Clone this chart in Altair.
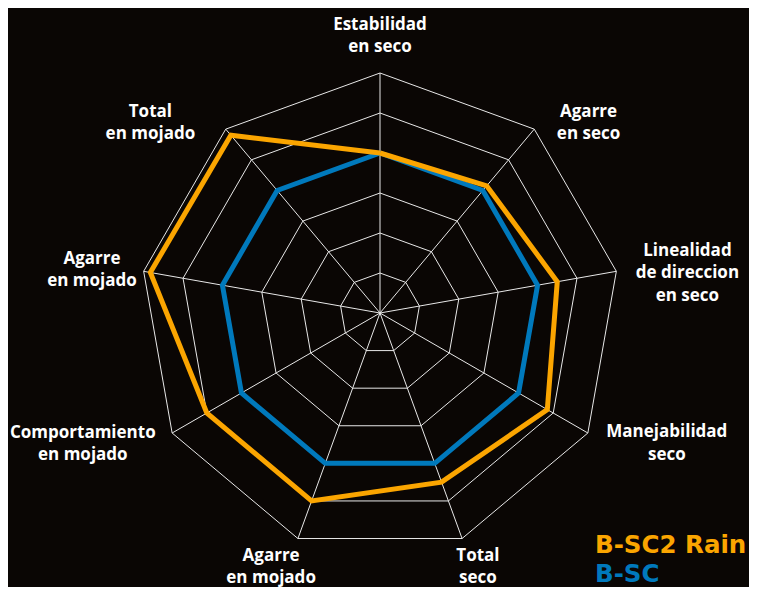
import altair as alt
import pandas as pd

# ---- data ----
categories = [
    "Estabilidad\nen seco",
    "Agarre\nen seco",
    "Linealidad\nde direccion\nen seco",
    "Manejabilidad\nseco",
    "Total\nseco",
    "Agarre\nen mojado",
    "Comportamiento\nen mojado",
    "Agarre\nen mojado",
    "Total\nen mojado",
]
series_names = ["B-SC", "B-SC2 Rain"]
b_sc = [4.0, 4.0, 4.0, 4.0, 4.0, 4.0, 4.0, 4.0, 4.0]
b_sc2_rain = [4.0, 4.15, 4.5, 4.83, 4.5, 5.0, 5.0, 5.83, 5.8]
grid_levels = [1, 2, 3, 4, 5, 6]

# label layout (polar position of the centre of each label block, degrees / value units)
label_angle = [0, 47.7, 82.6, 114.5, 158.9, 203.2, 246.2, 278.5, 309.6]
label_radius = [6.92, 7.05, 7.75, 7.88, 6.8, 6.91, 8.12, 7.28, 7.45]

colors = {"B-SC2 Rain": "#FBA500", "B-SC": "#0079BC"}
BG = "#0a0604"
W, H = 741, 579
CX, CY, UNIT = 372, 305, 40.0
LINE_H = 22.5
FONT = "Open Sans"

n = len(categories)
step = 360.0 / n

rows = []
for name, vals in [("B-SC", b_sc), ("B-SC2 Rain", b_sc2_rain)]:
    for k in range(n + 1):
        i = k % n
        rows.append({"series": name, "order": k, "angle": i * step, "value": vals[i]})
series_df = pd.DataFrame(rows)

grid_rows = []
for lv in grid_levels:
    for k in range(n + 1):
        grid_rows.append({"level": lv, "order": k, "angle": (k % n) * step, "value": lv})
grid_df = pd.DataFrame(grid_rows)

spoke_df = pd.DataFrame({"angle": [i * step for i in range(n)], "value": [max(grid_levels)] * n})
label_df = pd.DataFrame({
    "label": categories,
    "angle": label_angle,
    "value": label_radius,
    "shift": [(c.count("\n")) * LINE_H / 2 / UNIT for c in categories],
})

xs = alt.Scale(domain=[-CX / UNIT, (W - CX) / UNIT], nice=False, zero=False)
ys = alt.Scale(domain=[-(H - CY) / UNIT, CY / UNIT], nice=False, zero=False)

def polar(ch):
    return ch.transform_calculate(
        x="datum.value * sin(datum.angle * PI / 180)",
        y="datum.value * cos(datum.angle * PI / 180)",
    )

grid = polar(alt.Chart(grid_df)).mark_line(color="#e8e8e8", strokeWidth=1).encode(
    x=alt.X("x:Q", scale=xs, axis=None),
    y=alt.Y("y:Q", scale=ys, axis=None),
    detail="level:N",
    order="order:Q",
)

spokes = alt.Chart(spoke_df).transform_calculate(
    x="0", y="0",
    x2="datum.value * sin(datum.angle * PI / 180)",
    y2="datum.value * cos(datum.angle * PI / 180)",
).mark_rule(color="#e8e8e8", strokeWidth=1).encode(
    x=alt.X("x:Q", scale=xs, axis=None),
    y=alt.Y("y:Q", scale=ys, axis=None),
    x2="x2:Q",
    y2="y2:Q",
)

lines = []
for name in series_names:
    lines.append(
        polar(alt.Chart(series_df[series_df.series == name])).mark_line(
            color=colors[name], strokeWidth=5, strokeJoin="miter"
        ).encode(
            x=alt.X("x:Q", scale=xs, axis=None),
            y=alt.Y("y:Q", scale=ys, axis=None),
            order="order:Q",
        )
    )

labels = alt.Chart(label_df).transform_calculate(
    x="datum.value * sin(datum.angle * PI / 180)",
    y="datum.value * cos(datum.angle * PI / 180) + datum.shift",
).mark_text(
    color="white", font=FONT, fontWeight="bold", fontSize=17,
    lineBreak="\n", lineHeight=LINE_H, align="center", baseline="middle",
).encode(
    x=alt.X("x:Q", scale=xs, axis=None),
    y=alt.Y("y:Q", scale=ys, axis=None),
    text="label:N",
)

legend_names = ["B-SC2 Rain", "B-SC"]
legend_layers = []
for j, name in enumerate(legend_names):
    legend_layers.append(
        alt.Chart(pd.DataFrame({"t": [name]})).mark_text(
            color=colors[name], font="DejaVu Sans", fontWeight="bold", fontSize=24.5,
            align="left", baseline="alphabetic",
        ).encode(x=alt.value(587), y=alt.value(545 + 29 * j), text="t:N")
    )

chart = alt.layer(grid, spokes, *lines, labels, *legend_layers).properties(
    width=W, height=H, background=BG, padding=0,
    autosize=alt.AutoSizeParams(type="none"),
).configure_view(strokeWidth=0)

chart.save("out.html", embed_options={"renderer": "svg", "actions": False})
